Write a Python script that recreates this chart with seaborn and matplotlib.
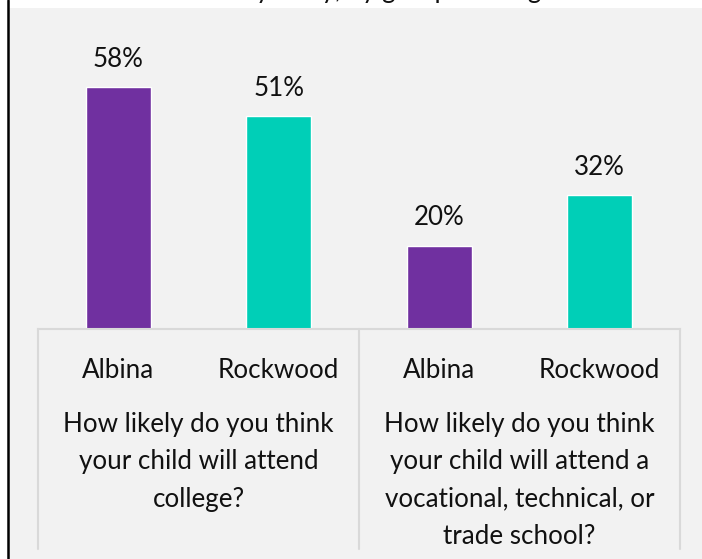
import matplotlib
matplotlib.use("Agg")
import matplotlib.pyplot as plt
import matplotlib.transforms as mtransforms
from matplotlib.patches import Rectangle
from matplotlib.lines import Line2D
import seaborn as sns
import pandas as pd

# ---- data ----
questions = [
    "How likely do you think\nyour child will attend\ncollege?",
    "How likely do you think\nyour child will attend a\nvocational, technical, or\ntrade school?",
]
regions = ["Albina", "Rockwood"]
college_values = [58, 51]
trade_values = [20, 32]
title_text = "Percent very likely, by group and region"

colors = {"Albina": "#7030A0", "Rockwood": "#00CFB7"}

rows = []
for qi, vals in enumerate([college_values, trade_values]):
    for r, v in zip(regions, vals):
        rows.append({"key": f"{qi}|{r}", "region": r, "value": v})
df = pd.DataFrame(rows)
order = list(df["key"])

sns.set_theme(style="white")
plt.rcParams["font.family"] = ["Lato", "DejaVu Sans"]

FS = 18.7
W, H = 702, 559
fig = plt.figure(figsize=(W / 100, H / 100), dpi=100)
fig.patch.set_facecolor("white")

# gray panel and left black border
fig.add_artist(Rectangle((9 / W, 0), 1 - 9 / W, (H - 8) / H, transform=fig.transFigure,
                         facecolor="#F2F2F2", edgecolor="none", zorder=0))
fig.add_artist(Line2D([8 / W, 8 / W], [0, 1], transform=fig.transFigure,
                      color="black", lw=1.8, zorder=1))

base_y = 329
top_y = 8
ax = fig.add_axes([38 / W, (H - base_y) / H, (680 - 38) / W, (base_y - top_y) / H])
ax.set_facecolor("none")

sns.barplot(data=df, x="key", y="value", hue="region", order=order,
            palette=colors, dodge=False, width=0.405, legend=False, ax=ax,
            saturation=1)

ax.set_xlim(-0.5, 3.5)
px_per_pct = (329 - 87) / 58.0
ax.set_ylim(0, (base_y - top_y) / px_per_pct)

for p in ax.patches:
    h = p.get_height()
    ax.annotate(f"{h:.0f}%", (p.get_x() + p.get_width() / 2, h),
                xytext=(0, 11), textcoords="offset points", ha="center", va="bottom",
                fontsize=FS, color="#111111")

for s in ["top", "right", "left"]:
    ax.spines[s].set_visible(False)
ax.spines["bottom"].set_color("#D9D9D9")
ax.spines["bottom"].set_linewidth(1.5)
ax.set_yticks([])
ax.set_ylabel("")
ax.set_xlabel("")
ax.set_xticks(range(len(order)))
ax.set_xticklabels([k.split("|")[1] for k in order], fontsize=FS, color="#111111")
ax.tick_params(axis="x", length=0, pad=21)

# group divider lines
trans = mtransforms.blended_transform_factory(ax.transData, ax.transAxes)
ax_h_px = base_y - top_y
for xv in [-0.5, 1.5, 3.5]:
    ax.plot([xv, xv], [0, -(549 - base_y) / ax_h_px], transform=trans,
            color="#D9D9D9", lw=1.5, clip_on=False)

# group labels
for qi, q in enumerate(questions):
    ax.text(qi * 2 + 0.5, -(412 - base_y) / ax_h_px, q, transform=trans,
            ha="center", va="top", fontsize=FS, color="#111111", linespacing=1.62)

# title, clipped at the top edge as in the original
fig.text(0.5, 1.0 + 2.0 / H, title_text, ha="center", va="baseline", fontsize=FS, color="#111111")

fig.savefig("out.png", dpi=100, facecolor=fig.get_facecolor())
